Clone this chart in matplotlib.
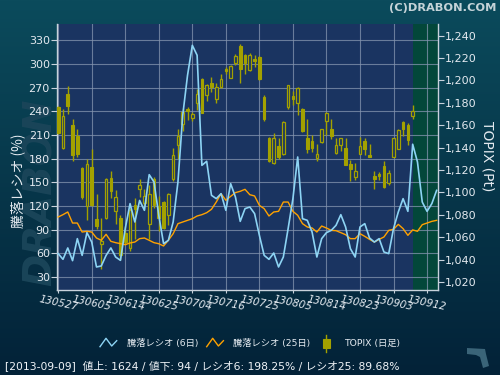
import numpy as np
import matplotlib
matplotlib.use('Agg')
import matplotlib.pyplot as plt
from matplotlib.patches import Rectangle, Polygon
from matplotlib.ticker import FuncFormatter

# ---------------- data ----------------
tick_labels = ['130527', '130605', '130614', '130625', '130704', '130716',
               '130725', '130805', '130814', '130823', '130903', '130912']

topix_open = [1176.3, 1139.7, 1187.9, 1160.2, 1150.4, 1121.8, 1088.1, 1122.7, 1076.3, 1053.7,
              1077.4, 1112.9, 1083.1, 1076.9, 1063.8, 1050.6, 1088.5, 1103.3, 1090.8, 1071.5,
              1111.7, 1088.1, 1091.1, 1079.6, 1112.3, 1142.6, 1161.4, 1174.2, 1166.8, 1180.2,
              1201.1, 1187.3, 1197.7, 1183.7, 1194.2, 1210.3, 1202.5, 1215.3, 1230.5, 1222.8,
              1209.6, 1219.5, 1221.0, 1185.2, 1148.6, 1126.0, 1141.2, 1134.1, 1176.3, 1186.1,
              1180.2, 1174.2, 1148.6, 1145.9, 1130.8, 1145.0, 1164.1, 1156.4, 1135.5, 1142.1,
              1139.7, 1125.4, 1113.8, 1134.6, 1146.2, 1133.7, 1114.7, 1116.5, 1123.6, 1108.1,
              1131.9, 1139.1, 1162.9, 1160.0, 1168.3]
topix_high = [1177.0, 1174.2, 1194.8, 1165.6, 1156.7, 1123.0, 1130.1, 1138.8, 1098.6, 1077.2,
              1112.5, 1119.2, 1101.9, 1079.6, 1070.0, 1086.0, 1095.3, 1112.3, 1103.3, 1106.4,
              1113.8, 1096.8, 1092.5, 1099.5, 1139.7, 1156.9, 1175.4, 1176.3, 1171.8, 1192.7,
              1202.2, 1197.1, 1203.1, 1197.7, 1206.1, 1212.0, 1213.5, 1223.7, 1232.3, 1223.4,
              1224.5, 1223.0, 1221.5, 1186.8, 1149.5, 1153.1, 1148.6, 1163.5, 1196.2, 1190.3,
              1194.0, 1175.4, 1165.3, 1151.0, 1143.3, 1157.0, 1171.8, 1165.3, 1148.6, 1148.6,
              1148.6, 1129.0, 1126.3, 1149.2, 1148.3, 1143.3, 1118.9, 1118.5, 1127.8, 1119.8,
              1149.0, 1156.5, 1163.5, 1161.8, 1178.4]
topix_low = [1152.0, 1138.8, 1170.3, 1128.3, 1131.6, 1094.4, 1075.6, 1088.0, 1067.6, 1031.9,
             1076.5, 1095.0, 1072.0, 1039.4, 1052.8, 1048.0, 1058.6, 1095.9, 1084.0, 1058.6,
             1086.3, 1065.3, 1067.5, 1070.6, 1110.5, 1130.1, 1154.9, 1165.0, 1163.5, 1173.4,
             1171.0, 1181.7, 1189.7, 1179.9, 1193.3, 1205.5, 1201.8, 1213.6, 1198.0, 1205.8,
             1208.2, 1212.0, 1200.2, 1164.1, 1127.0, 1125.4, 1130.1, 1133.5, 1174.2, 1177.8,
             1168.9, 1154.0, 1135.5, 1135.8, 1128.3, 1144.4, 1151.6, 1148.0, 1134.3, 1137.0,
             1124.2, 1110.5, 1111.4, 1134.3, 1133.1, 1131.3, 1103.3, 1110.8, 1104.2, 1106.4,
             1131.5, 1138.5, 1150.4, 1142.6, 1165.9]
topix_close = [1153.1, 1168.0, 1177.5, 1133.7, 1134.3, 1095.9, 1125.4, 1089.0, 1070.3, 1056.6,
               1111.7, 1101.0, 1095.6, 1043.8, 1055.7, 1084.6, 1085.5, 1106.6, 1096.8, 1098.9,
               1089.0, 1077.2, 1068.5, 1098.3, 1133.1, 1150.1, 1171.8, 1172.5, 1169.8, 1188.2,
               1171.2, 1196.2, 1194.4, 1193.9, 1201.1, 1208.5, 1212.9, 1222.1, 1210.5, 1215.9,
               1222.5, 1217.4, 1201.6, 1165.9, 1127.8, 1148.6, 1131.4, 1162.9, 1195.7, 1183.7,
               1193.3, 1154.6, 1139.1, 1140.0, 1134.3, 1156.4, 1171.0, 1150.4, 1142.1, 1148.6,
               1124.8, 1121.2, 1119.2, 1141.5, 1139.1, 1131.6, 1112.3, 1114.4, 1104.8, 1117.4,
               1148.6, 1156.0, 1156.9, 1147.1, 1172.5]

ratio6 = [59.6, 52.4, 66.8, 50.7, 78.6, 57.4, 86.2, 74.3, 42.7, 44.0,
          57.4, 66.8, 55.3, 51.1, 91.3, 123.0, 99.7, 127.0, 114.5, 159.7,
          150.4, 108.2, 72.2, 76.5, 99.7, 150.4, 234.9, 285.6, 323.6, 311.0,
          171.5, 176.6, 133.5, 129.3, 135.6, 114.5, 148.3, 131.4, 100.5, 116.6,
          118.7, 110.3, 82.8, 57.4, 52.4, 60.4, 42.7, 55.3, 91.3, 129.3,
          182.1, 103.9, 101.8, 87.0, 55.3, 78.6, 86.2, 89.1, 95.5, 109.0,
          93.4, 65.9, 55.3, 93.4, 97.6, 79.4, 74.3, 78.6, 61.7, 59.6,
          91.3, 112.4, 129.3, 113.2, 198.25, 175.8, 125.0, 113.2, 123.0, 139.8]
ratio25 = [106.0, 109.0, 112.4, 98.4, 98.4, 87.0, 87.9, 87.0, 79.4, 76.5,
           84.1, 75.2, 73.5, 72.2, 71.0, 73.1, 74.3, 78.6, 79.4, 76.5,
           73.5, 72.2, 69.3, 76.5, 84.9, 97.6, 99.7, 101.8, 103.9, 107.3,
           109.0, 111.5, 115.8, 125.0, 135.6, 127.2, 132.2, 136.9, 138.6, 141.1,
           134.3, 132.7, 120.8, 116.6, 107.3, 112.4, 113.2, 125.0, 125.0, 113.2,
           108.2, 97.6, 93.4, 92.1, 87.0, 94.6, 92.1, 89.1, 88.7, 86.2,
           83.6, 78.6, 78.6, 84.9, 81.5, 77.7, 74.3, 77.7, 80.7, 89.1,
           90.4, 96.7, 91.3, 82.8, 89.68, 87.9, 96.3, 98.4, 100.5, 101.8]

footer = '[2013-09-09]  値上: 1624 / 値下: 94 / レシオ6: 198.25% / レシオ25: 89.68%'
legend_labels = ['騰落レシオ (6日)', '騰落レシオ (25日)', 'TOPIX (日足)']

# ---------------- style ----------------
W, H = 500, 375
JP = ['DejaVu Sans', 'Noto Sans CJK JP']
TXT = '#e4eaf0'
CANDLE = '#a3a100'
BLUE = '#8dd4f4'
ORANGE = '#ffa200'
PLOTBG = '#1a3461'

fig = plt.figure(figsize=(5, 3.75), dpi=100)

# gradient background
bg = fig.add_axes([0, 0, 1, 1], zorder=-10)
g = np.linspace(0, 1, 256)[:, None, None]
top = np.array([0x0b, 0x4b, 0x5c]) / 255.0
bot = np.array([0x03, 0x22, 0x38]) / 255.0
img = top * (1 - g) + bot * g
bg.imshow(np.repeat(img, 4, axis=1), aspect='auto', extent=[0, 1, 0, 1])
bg.axis('off')

rect = [56.7 / W, 1 - 289.7 / H, 381.6 / W, 266.0 / H]
ax = fig.add_axes(rect)
ax.set_facecolor(PLOTBG)
xmin, xmax = -0.31, 79.35
ax.set_xlim(xmin, xmax)
ax.set_ylim(13.9, 351)
ax.axvspan(74.13, xmax, color='#03473a', lw=0, zorder=0)
ax.set_yticks(range(30, 331, 30))
ax.set_xticks(range(0, 78, 7))
ax.set_xticklabels(tick_labels, rotation=-12)
ax.grid(True, color='#8595b0', lw=0.8, alpha=0.75)
ax.set_axisbelow(True)
for s in ['left', 'bottom', 'right']:
    ax.spines[s].set_color('#c8d2dc')
    ax.spines[s].set_linewidth(1.0)
ax.spines['top'].set_visible(False)
ax.tick_params(axis='y', colors='#c8d2dc', labelcolor=TXT, labelsize=8,
               length=4, width=0.8, pad=1)
ax.tick_params(axis='x', colors='#c8d2dc', labelcolor=TXT, labelsize=7.5,
               length=2, width=0.8, pad=1)
for t in ax.get_xticklabels():
    t.set_fontstyle('italic')

# TOPIX candles
axc = ax.twinx()
axc.set_ylim(1013.1, 1250.7)
axc.set_xlim(xmin, xmax)
axc.set_yticks(range(1020, 1241, 20))
axc.yaxis.set_major_formatter(FuncFormatter(lambda v, p: f'{v:,.0f}'))
axc.tick_params(axis='y', colors='#c8d2dc', labelcolor=TXT, labelsize=8,
                length=4, width=0.8, pad=1)
for s in axc.spines.values():
    s.set_visible(False)
bw = 0.55
for i, (o, h, l, c) in enumerate(zip(topix_open, topix_high, topix_low, topix_close)):
    axc.vlines(i, l, h, color=CANDLE, lw=1.0, zorder=2)
    lo, hi = min(o, c), max(o, c)
    if c < o:
        axc.add_patch(Rectangle((i - bw / 2, lo), bw, max(hi - lo, 0.8),
                                facecolor=CANDLE, edgecolor=CANDLE, lw=0.8, zorder=3))
    else:
        axc.add_patch(Rectangle((i - bw / 2, lo), bw, max(hi - lo, 0.8),
                                facecolor=PLOTBG, edgecolor=CANDLE, lw=0.9, zorder=3))

# ratio lines
axl = ax.twinx()
axl.set_xlim(xmin, xmax)
axl.set_ylim(13.9, 351)
axl.set_axis_off()
axl.plot(range(len(ratio25)), ratio25, color=ORANGE, lw=1.0)
axl.plot(range(len(ratio6)), ratio6, color=BLUE, lw=1.2)

# axis labels, title, watermark
fig.text(18 / W, 1 - 181 / H, '騰落レシオ (%)', rotation=90, ha='center', va='center',
         fontsize=10, color=TXT, family=['Noto Sans CJK JP', 'DejaVu Sans'])
fig.text(487 / W, 1 - 156 / H, 'TOPIX (Pt)', rotation=270, ha='center', va='center',
         fontsize=10, color=TXT)
fig.text(496 / W, 1 - 8 / H, '(C)DRABON.COM', ha='right', va='center', fontsize=8.2,
         weight='bold', color='#c5d3d8')
fig.text(41 / W, 1 - 192 / H, 'DRABON', rotation=90, ha='center', va='center', fontsize=28,
         weight='bold', style='italic', color='#1a4559', zorder=-1)

# legend + footer in pixel overlay
ov = fig.add_axes([0, 0, 1, 1], zorder=5)
ov.set_xlim(0, W)
ov.set_ylim(H, 0)
ov.axis('off')
zx = [100, 106, 111.7, 116.7]
zy = [346.7, 338.3, 346, 340.7]
ov.plot(zx, zy, color=BLUE, lw=1.0)
ov.plot([x + 106.7 for x in zx], zy, color=ORANGE, lw=1.0)
ov.plot([326.3, 326.3], [335, 351.7], color=CANDLE, lw=1.0)
ov.add_patch(Rectangle((323, 339.3), 6.5, 9, facecolor=CANDLE, edgecolor=CANDLE, lw=0.8))
for xl, lab in zip([127, 233, 344], legend_labels):
    ov.text(xl, 343.5, lab, ha='left', va='center', fontsize=6.7, color=TXT, family=JP)
ov.text(5, 365.5, footer, ha='left', va='center', fontsize=7.75, color='#f0f4f8', family=JP)
ov.add_patch(Polygon([(467, 348), (485, 349), (486, 354), (489, 366), (483, 368),
                      (480, 357), (476, 355), (467, 354)], closed=True,
                     facecolor='#3a6478', edgecolor='none'))

fig.savefig('out.png', dpi=100)
